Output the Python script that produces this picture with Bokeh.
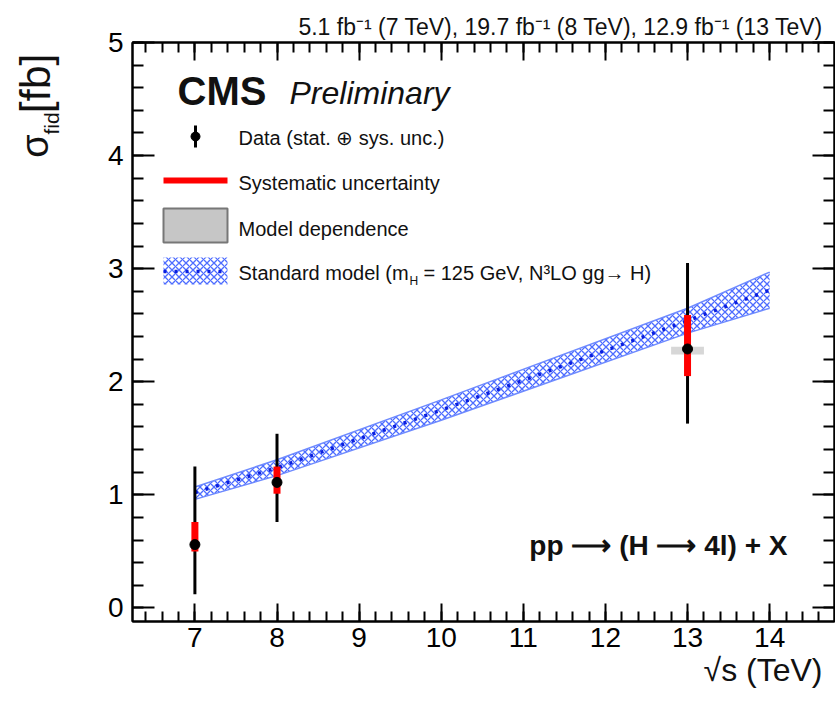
import numpy as np
from bokeh.plotting import figure
from bokeh.models import FixedTicker, LinearAxis, Label, Range1d, Title
from bokeh.layouts import row
from bokeh.embed import file_html
from bokeh.resources import INLINE

# ---------------- data ----------------
energies = [7, 8, 13]                 # sqrt(s) in TeV
sigma = [0.56, 1.11, 2.29]            # measured fiducial cross section (fb)
tot_hi = [1.25, 1.54, 3.05]           # upper edge, stat (+) sys
tot_lo = [0.12, 0.76, 1.63]           # lower edge, stat (+) sys
sys_hi = [0.76, 1.25, 2.59]           # upper edge, systematic
sys_lo = [0.50, 1.01, 2.05]           # lower edge, systematic
model_x = [13]
model_hi = [2.31]
model_lo = [2.24]
model_halfwidth = 0.2

sm_x = [7, 8, 10, 13, 14]
sm_c = [1.02, 1.24, 1.75, 2.54, 2.81]
sm_lo = [0.96, 1.17, 1.66, 2.43, 2.65]
sm_hi = [1.07, 1.31, 1.84, 2.65, 2.97]

x_major = [7, 8, 9, 10, 11, 12, 13, 14]
y_major = [0, 1, 2, 3, 4, 5]

legend_labels = ["Data (stat. \u2295 sys. unc.)", "Systematic uncertainty",
                 "Model dependence", "Standard model (m"]
lumi_text = "5.1 fb\u207b\u00b9 (7 TeV), 19.7 fb\u207b\u00b9 (8 TeV), 12.9 fb\u207b\u00b9 (13 TeV)"
x_title = "\u221as (TeV)"

# ---------------- layout ----------------
W, H = 835, 704
AW = 70                       # width of the strip holding the y-axis title
FL, FR, FT, FB = 132, 834, 42, 621
X0, X1 = 6.24, 14.79
Y0, Y1 = -0.12, 5.0


def dx(sx):
    return X0 + (sx - FL) * (X1 - X0) / (FR - FL)


def dy(sy):
    return Y1 - (sy - FT) * (Y1 - Y0) / (FB - FT)


FONT = "Liberation Sans"

p = figure(width=W - AW, height=H, output_backend="svg", toolbar_location=None,
           x_range=Range1d(X0, X1), y_range=Range1d(Y0, Y1),
           x_axis_type=None, y_axis_type=None,
           min_border_left=FL - AW, min_border_right=W - FR,
           min_border_top=FT, min_border_bottom=H - FB)
p.background_fill_color = "white"
p.border_fill_color = "white"
p.outline_line_color = "black"
p.outline_line_width = 2
p.xgrid.visible = False
p.ygrid.visible = False

xt = FixedTicker(ticks=x_major, minor_ticks=[round(v, 1) for v in np.arange(6.4, 14.8, 0.2)])
yt = FixedTicker(ticks=y_major, minor_ticks=[round(v, 1) for v in np.arange(0, 5.01, 0.2)])


def style(ax, labels, major, minor):
    ax.axis_line_color = "black"
    ax.axis_line_width = 2
    ax.major_tick_line_color = "black"
    ax.minor_tick_line_color = "black"
    ax.major_tick_line_width = 2
    ax.minor_tick_line_width = 2
    ax.major_tick_in = major
    ax.major_tick_out = 0
    ax.minor_tick_in = minor
    ax.minor_tick_out = 0
    if labels:
        ax.major_label_text_font = FONT
        ax.major_label_text_font_size = "28px"
        ax.major_label_text_color = "black"
    else:
        ax.major_label_text_font_size = "1px"
        ax.major_label_text_color = None
        ax.major_label_standoff = 0


xb = LinearAxis(ticker=xt); style(xb, True, 18, 10); xb.major_label_standoff = 6
xa = LinearAxis(ticker=xt); style(xa, False, 18, 10)
yl = LinearAxis(ticker=yt); style(yl, True, 22, 11); yl.major_label_standoff = 9
yr = LinearAxis(ticker=yt); style(yr, False, 22, 11)
p.add_layout(xb, "below")
p.add_layout(xa, "above")
p.add_layout(yl, "left")
p.add_layout(yr, "right")

# titles outside the frame
p.add_layout(Title(text=lumi_text, align="right", text_font=FONT, text_font_size="23px",
                   text_font_style="normal", text_color="#111111", offset=11, standoff=6),
             "above")
p.add_layout(Title(text=x_title, align="right", text_font=FONT, text_font_size="32px",
                   text_font_style="normal", text_color="#111111", offset=12, standoff=0),
             "below")

# ---------------- SM band ----------------
p.varea(x=sm_x, y1=sm_lo, y2=sm_hi, fill_alpha=0.0,
        hatch_pattern="diagonal_cross", hatch_color="#3a5cff", hatch_scale=7,
        hatch_weight=1.3, hatch_alpha=0.9)
p.line(sm_x, sm_lo, line_color="#6f8bff", line_width=1.5)
p.line(sm_x, sm_hi, line_color="#6f8bff", line_width=1.5)
p.line(sm_x, sm_c, line_color="#0a1fe0", line_width=3.5, line_dash="3 8")

# ---------------- data ----------------
p.quad(left=[x - model_halfwidth for x in model_x], right=[x + model_halfwidth for x in model_x],
       bottom=model_lo, top=model_hi, fill_color="#bdbdbd", fill_alpha=0.6, line_color=None)
p.segment(x0=energies, y0=tot_lo, x1=energies, y1=tot_hi, line_color="black", line_width=3)
p.segment(x0=energies, y0=sys_lo, x1=energies, y1=sys_hi, line_color="#ff0000", line_width=7)
p.scatter(energies, sigma, size=10, color="black")

# ---------------- legend (drawn by hand, ROOT style) ----------------
gl, gr = dx(163), dx(227)
p.segment(x0=[dx(195)], y0=[dy(125)], x1=[dx(195)], y1=[dy(147)], line_color="black", line_width=3)
p.scatter([dx(195)], [dy(136)], size=9, color="black")
p.segment(x0=[gl], y0=[dy(180)], x1=[gr], y1=[dy(180)], line_color="#ff0000", line_width=6)
p.quad(left=[gl], right=[gr], top=[dy(208)], bottom=[dy(242)], fill_color="#c6c6c6",
       line_color="#777777", line_width=2)
p.quad(left=[gl], right=[gr], top=[dy(257)], bottom=[dy(284)], fill_alpha=0.0, line_alpha=0.0,
       hatch_pattern="diagonal_cross", hatch_color="#3a5cff", hatch_scale=7, hatch_weight=1.3,
       hatch_alpha=0.9)
p.segment(x0=[gl], y0=[dy(271)], x1=[gr], y1=[dy(271)], line_color="#0a1fe0", line_width=3.5,
          line_dash="3 8")


def lab(fig, xx, yy, text, size, style="normal", align="left", baseline="middle", angle=0.0,
        color="#111111"):
    fig.add_layout(Label(x=xx, y=yy, text=text, text_font=FONT,
                         text_font_size=f"{size}px", text_font_style=style, text_align=align,
                         text_baseline=baseline, angle=angle, text_color=color))


ys = [137, 182, 228, 272]
for t, yy in zip(legend_labels, ys):
    lab(p, dx(238), dy(yy), t, 20)
lab(p, dx(409), dy(280), "H", 12)
lab(p, dx(423), dy(272), "= 125 GeV, N\u00b3LO gg\u2192 H)", 20)

# ---------------- texts inside the frame ----------------
lab(p, dx(177), dy(90), "CMS", 40, style="bold")
lab(p, dx(289), dy(92), "Preliminary", 32, style="italic")
lab(p, dx(787), dy(545), "pp \u27f6 (H \u27f6 4l) + X", 28, style="bold", align="right")

# ---------------- y-axis title strip ----------------
a = figure(width=AW, height=H, output_backend="svg", toolbar_location=None,
           x_range=Range1d(0, AW), y_range=Range1d(0, H),
           x_axis_type=None, y_axis_type=None,
           min_border_left=0, min_border_right=0, min_border_top=0, min_border_bottom=0)
a.outline_line_color = None
a.xgrid.visible = False
a.ygrid.visible = False
a.background_fill_color = "white"
a.border_fill_color = "white"
lab(a, 34, H - 140, "\u03c3", 38, angle=np.pi / 2)
lab(a, 51, H - 112, "fid", 21, angle=np.pi / 2)
lab(a, 34, H - 86, "[fb]", 43, angle=np.pi / 2)

layout = row(a, p, spacing=0)
open("out.html", "w").write(file_html(layout, INLINE))
